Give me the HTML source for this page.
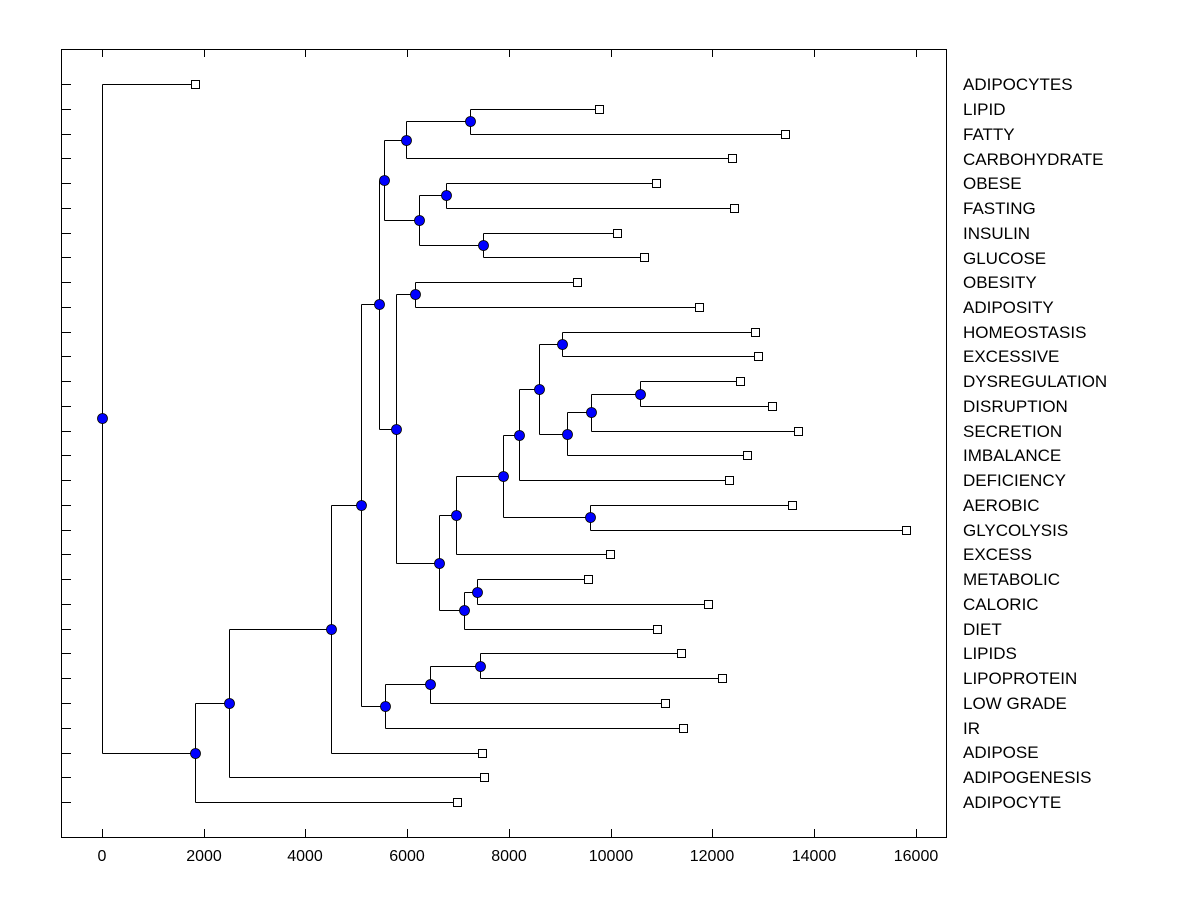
<!DOCTYPE html>
<html><head><meta charset="utf-8"><style>
html,body{margin:0;padding:0;background:#fff;width:1200px;height:900px;overflow:hidden}
text{font-family:"Liberation Sans",Arial,sans-serif;font-size:17px;fill:#000}
.t text{font-size:16px}
</style></head><body>
<svg id="s" width="1200" height="900" xmlns="http://www.w3.org/2000/svg">
<rect x="61.5" y="49.5" width="885" height="788" fill="none" stroke="#000" stroke-width="1"/>
<g id="g" stroke="#000" stroke-width="1" fill="none" shape-rendering="crispEdges"></g>
<g id="d"></g>
<g>
<text x="963" y="90">ADIPOCYTES</text>
<text x="963" y="115">LIPID</text>
<text x="963" y="140">FATTY</text>
<text x="963" y="165">CARBOHYDRATE</text>
<text x="963" y="189">OBESE</text>
<text x="963" y="214">FASTING</text>
<text x="963" y="239">INSULIN</text>
<text x="963" y="264">GLUCOSE</text>
<text x="963" y="288">OBESITY</text>
<text x="963" y="313">ADIPOSITY</text>
<text x="963" y="338">HOMEOSTASIS</text>
<text x="963" y="362">EXCESSIVE</text>
<text x="963" y="387">DYSREGULATION</text>
<text x="963" y="412">DISRUPTION</text>
<text x="963" y="437">SECRETION</text>
<text x="963" y="461">IMBALANCE</text>
<text x="963" y="486">DEFICIENCY</text>
<text x="963" y="511">AEROBIC</text>
<text x="963" y="536">GLYCOLYSIS</text>
<text x="963" y="560">EXCESS</text>
<text x="963" y="585">METABOLIC</text>
<text x="963" y="610">CALORIC</text>
<text x="963" y="635">DIET</text>
<text x="963" y="659">LIPIDS</text>
<text x="963" y="684">LIPOPROTEIN</text>
<text x="963" y="709">LOW GRADE</text>
<text x="963" y="734">IR</text>
<text x="963" y="758">ADIPOSE</text>
<text x="963" y="783">ADIPOGENESIS</text>
<text x="963" y="808">ADIPOCYTE</text>
</g>
<g text-anchor="middle" class="t">
<text x="102" y="861">0</text>
<text x="204" y="861">2000</text>
<text x="305" y="861">4000</text>
<text x="407" y="861">6000</text>
<text x="509" y="861">8000</text>
<text x="611" y="861">10000</text>
<text x="712" y="861">12000</text>
<text x="814" y="861">14000</text>
<text x="916" y="861">16000</text>
</g>
</svg>
<script>
var NS="http://www.w3.org/2000/svg",g=document.getElementById('g'),d=document.getElementById('d');
function ry(i){return 84+i*24.76;}
var leafX=[195,599,785,732,656,734,617,644,577,699,755,758,740,772,798,747,729,792,906,610,588,708,657,681,722,665,683,482,484,457];
var N={};
for(var i=0;i<30;i++)N['l'+i]={x:leafX[i],y:ry(i),leaf:1};
function node(n,x,a,b){N[n]={x:x,y:(N[a].y+N[b].y)/2,a:a,b:b};}
node('A',470,'l1','l2');node('B',406,'A','l3');
node('C',446,'l4','l5');node('D',483,'l6','l7');node('E',419,'C','D');node('F',384,'B','E');
node('G',415,'l8','l9');
node('Q',562,'l10','l11');node('T',640,'l12','l13');node('S',591,'T','l14');node('R',567,'S','l15');
node('P',539,'Q','R');node('Nn',519,'P','l16');node('O',590,'l17','l18');node('M',503,'Nn','O');
node('K',456,'M','l19');node('U',477,'l20','l21');node('L',464,'U','l22');node('J',439,'K','L');
node('I',396,'G','J');node('H',379,'F','I');
node('Y',480,'l23','l24');node('X',430,'Y','l25');node('V',385,'X','l26');
node('W',361,'H','V');node('Z',331,'W','l27');node('AA',229,'Z','l28');node('BB',195,'AA','l29');
node('R0',102,'l0','BB');
function ln(x1,y1,x2,y2){var l=document.createElementNS(NS,'line');l.setAttribute('x1',x1);l.setAttribute('y1',y1);l.setAttribute('x2',x2);l.setAttribute('y2',y2);g.appendChild(l);}
for(var i=0;i<30;i++){var y=Math.round(ry(i))+0.5;ln(61,y,71,y);}
var tx=[102,204,305,407,509,611,712,814,916];
tx.forEach(function(x){ln(x+0.5,49,x+0.5,57);ln(x+0.5,829,x+0.5,837);});
for(var k in N){var n=N[k];if(n.leaf)continue;var a=N[n.a],b=N[n.b];var x=Math.round(n.x)+0.5;
ln(x,Math.round(a.y)+0.5,x,Math.round(b.y)+0.5);
ln(x,Math.round(a.y)+0.5,a.x,Math.round(a.y)+0.5);
ln(x,Math.round(b.y)+0.5,b.x,Math.round(b.y)+0.5);}
for(var k in N){var n=N[k];
if(n.leaf){var r=document.createElementNS(NS,'rect');r.setAttribute('x',Math.round(n.x)-3.5);r.setAttribute('y',Math.round(n.y)-3.5);r.setAttribute('width',8);r.setAttribute('height',8);r.setAttribute('fill','#fff');r.setAttribute('stroke','#000');d.appendChild(r);}
else{var c=document.createElementNS(NS,'circle');c.setAttribute('cx',Math.round(n.x)+0.5);c.setAttribute('cy',Math.round(n.y)+0.5);c.setAttribute('r',5);c.setAttribute('fill','#0000ff');c.setAttribute('stroke','#000');c.setAttribute('stroke-width','0.8');d.appendChild(c);}}
</script>
</body></html>
